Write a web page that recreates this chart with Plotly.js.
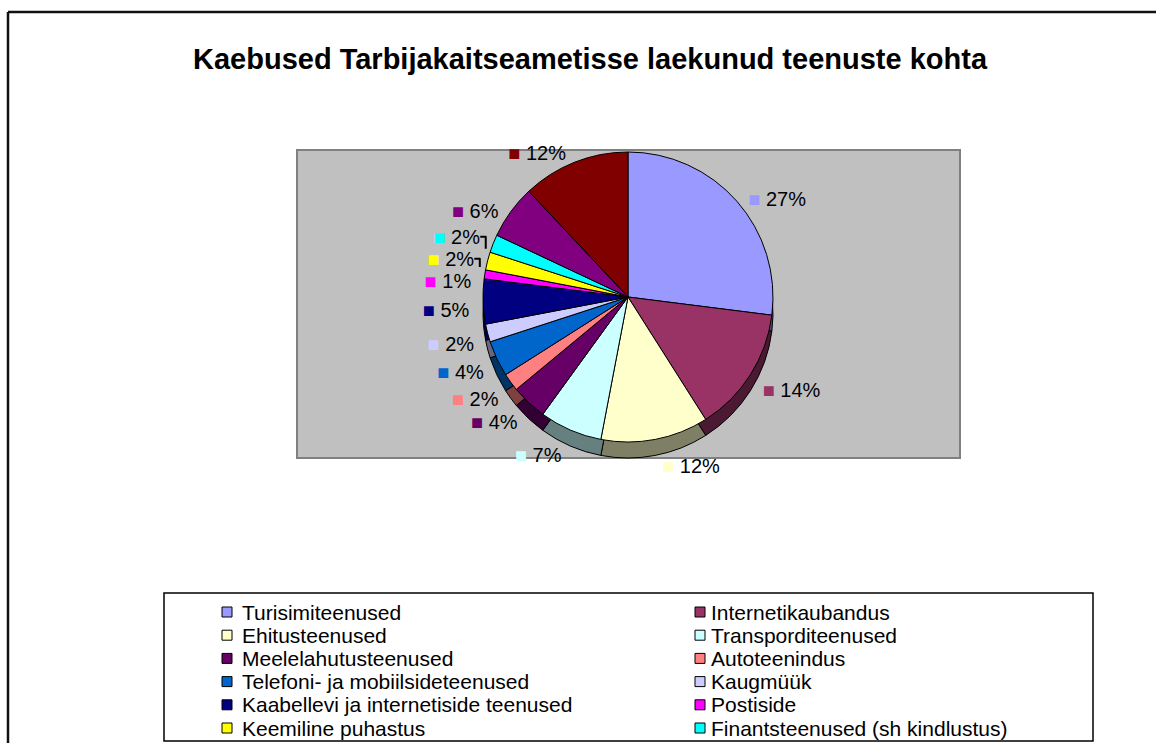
<!DOCTYPE html>
<html><head><meta charset="utf-8">
<script src="https://cdn.plot.ly/plotly-3.0.1.min.js"></script>
<style>body{margin:0;background:#fff}#chart{width:1156px;height:743px}</style>
</head><body><div id="chart"></div>
<script>
const categories = ["Turisimiteenused","Internetikaubandus","Ehitusteenused","Transporditeenused","Meelelahutusteenused","Autoteenindus","Telefoni- ja mobiilsideteenused","Kaugmüük","Kaabellevi ja internetiside teenused","Postiside","Keemiline puhastus","Finantsteenused (sh kindlustus)","Muud teenused","Muud kaebused"];
const values = [27,14,12,7,4,2,4,2,5,1,2,2,6,12];
const colors = ["#9999FF","#993366","#FFFFCC","#CCFFFF","#660066","#FF8080","#0066CC","#CCCCFF","#000080","#FF00FF","#FFFF00","#00FFFF","#800080","#800000"];
const titleText = "Kaebused Tarbijakaitseametisse laekunud teenuste kohta";

const W=1156,H=743;
const px=x=>x/W, py=y=>1-y/H;
const FONT="Arial, 'Liberation Sans', sans-serif";
function darker(hex){const n=parseInt(hex.slice(1),16);return `rgb(${(n>>16&255)>>1},${(n>>8&255)>>1},${(n&255)>>1})`;}
const cx=628, cy=297, R=145, D=16;
function dom(c,r){return {x:[px(cx-r),px(cx+r)],y:[py(c+r),py(c-r)]};}

const labelTexts = values.map((v,i)=>`<span style="color:${colors[i]}">■</span> ${v}%`);
const common = {type:'pie',values:values,labels:categories,sort:false,direction:'clockwise',showlegend:false};

const labelTrace = Object.assign({},common,{
  marker:{colors:values.map(()=> 'rgba(0,0,0,0)'),line:{width:0}},
  texttemplate:labelTexts,textposition:'outside',
  outsidetextfont:{size:20,color:'#000',family:FONT},
  hoverinfo:'skip',domain:dom(cy+D/2,R+D/2)});
const depthTrace = Object.assign({},common,{
  marker:{colors:colors.map(darker),line:{color:'#000',width:1}},
  textinfo:'none',hoverinfo:'skip',domain:dom(cy+D,R)});
const topTrace = Object.assign({},common,{
  marker:{colors:colors,line:{color:'#000',width:1}},
  textinfo:'none',hoverinfo:'label+percent',domain:dom(cy,R)});

const shapes=[
  {type:'rect',xref:'paper',yref:'paper',x0:px(297),x1:px(960),y0:py(458),y1:py(150),fillcolor:'#C0C0C0',line:{color:'#808080',width:2},layer:'below'},
  {type:'rect',xref:'paper',yref:'paper',x0:px(164),x1:px(1093),y0:py(741),y1:py(593),fillcolor:'rgba(0,0,0,0)',line:{color:'#000',width:1.5}},
  {type:'line',xref:'paper',yref:'paper',x0:px(8),x1:px(8),y0:py(745),y1:py(12),line:{color:'#111',width:2.5}},
  {type:'line',xref:'paper',yref:'paper',x0:px(8),x1:px(1160),y0:py(12),y1:py(12),line:{color:'#111',width:2.5}}
];

const annotations=[{text:`<b>${titleText}</b>`,xref:'paper',yref:'paper',x:px(590),y:py(59),xanchor:'center',yanchor:'middle',showarrow:false,font:{size:29,family:FONT,color:'#000'}}];
const colX=[227,700], textX=[240,709], row0=612, rowH=23.2;
categories.forEach((c,i)=>{
  const col=i%2,row=Math.floor(i/2);
  const my=row0+row*rowH;
  if(my+10>H) return; // rows below the frame are not visible in the reference
  const mx=colX[col];
  shapes.push({type:'rect',xref:'paper',yref:'paper',x0:px(mx-5),x1:px(mx+5),y0:py(my+5),y1:py(my-5),fillcolor:colors[i],line:{color:'#000',width:1}});
  annotations.push({text:c,xref:'paper',yref:'paper',x:px(textX[col]),y:py(my),xanchor:'left',yanchor:'middle',showarrow:false,font:{size:21,family:FONT,color:'#000'}});
});

Plotly.newPlot('chart',[labelTrace,depthTrace,topTrace],{
  width:W,height:H,margin:{l:0,r:0,t:0,b:0},paper_bgcolor:'#fff',
  shapes:shapes,annotations:annotations,font:{family:FONT}
},{displayModeBar:false});
</script></body></html>
